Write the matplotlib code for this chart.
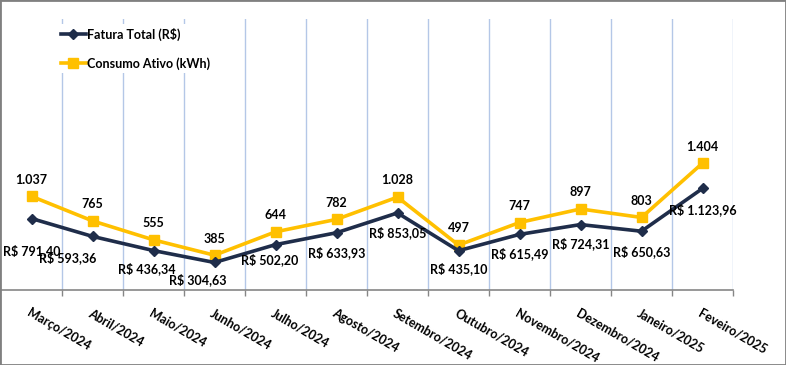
import matplotlib.pyplot as plt
import numpy as np
from matplotlib.patches import Rectangle

plt.rcParams['font.family'] = ['Lato', 'DejaVu Sans']

meses = ['Março/2024', 'Abril/2024', 'Maio/2024', 'Junho/2024', 'Julho/2024',
         'Agosto/2024', 'Setembro/2024', 'Outubro/2024', 'Novembro/2024',
         'Dezembro/2024', 'Janeiro/2025', 'Feveiro/2025']
fatura = [791.40, 593.36, 436.34, 304.63, 502.20, 633.93, 853.05, 435.10,
          615.49, 724.31, 650.63, 1123.96]
consumo = [1037, 765, 555, 385, 644, 782, 1028, 497, 747, 897, 803, 1404]

# offsets of the fatura labels (points), like the hand placed labels
fat_off = [(0, -23), (-18, -15), (-5, -13), (-12, -12), (-4, -11), (0, -14),
           (0, -14), (0, -13), (0, -14), (0, -14), (0, -15), (0, -15)]

navy = '#1F2D4A'
amarelo = '#FFC000'

def fmt_rs(v):
    s = f'{v:,.2f}'.replace(',', 'X').replace('.', ',').replace('X', '.')
    return 'R$ ' + s

def fmt_kwh(v):
    return f'{v:,}'.replace(',', '.')

fig = plt.figure(figsize=(7.86, 3.65), dpi=100)
ax = fig.add_axes([1/786, 75/365, 732/786, 271/365])

x = np.arange(len(meses))
ax.plot(x, fatura, color=navy, lw=2.6, marker='D', ms=5.5, label='Fatura Total (R$)', zorder=4)
ax.plot(x, consumo, color=amarelo, lw=2.6, marker='s', ms=7.5, label='Consumo Ativo (kWh)', zorder=3)

for i in range(len(x)):
    ax.annotate(fmt_kwh(consumo[i]), (x[i], consumo[i]), xytext=(0, 12),
                textcoords='offset points', ha='center', va='center',
                fontsize=9, fontweight='bold', color='black')
    ax.annotate(fmt_rs(fatura[i]), (x[i], fatura[i]), xytext=fat_off[i],
                textcoords='offset points', ha='center', va='center',
                fontsize=9, fontweight='bold', color='black', zorder=5)

ax.set_xlim(-0.5, 11.5)
ax.set_ylim(0, 3000)
ax.set_yticks([])

ax.set_xticks(x)
ax.set_xticklabels(meses, rotation=-30, ha='left', rotation_mode='anchor',
                   fontsize=9, fontweight='bold')
ax.tick_params(axis='x', which='major', length=0, pad=12)
ax.set_xticks(np.arange(0.5, 12, 1), minor=True)
ax.tick_params(axis='x', which='minor', length=4, color='#868686', width=1)
ax.grid(True, axis='x', which='minor', color='#B4C7E7', lw=1)
ax.set_axisbelow(True)

for s in ['top', 'right', 'left']:
    ax.spines[s].set_visible(False)
ax.spines['bottom'].set_color('#868686')
ax.spines['bottom'].set_linewidth(1.2)

leg = ax.legend(loc='upper left', bbox_to_anchor=(0.068, 1.005), frameon=True,
                fancybox=False, edgecolor='white', framealpha=1,
                prop={'size': 9, 'weight': 'bold'}, handlelength=2.0,
                handletextpad=0.1, labelspacing=1.3, borderpad=0.3)
leg.get_frame().set_linewidth(0)

fig.patches.append(Rectangle((0, 0), 1, 1, transform=fig.transFigure,
                             fill=False, edgecolor='#808080', lw=2))

fig.savefig('out.png', dpi=100)
